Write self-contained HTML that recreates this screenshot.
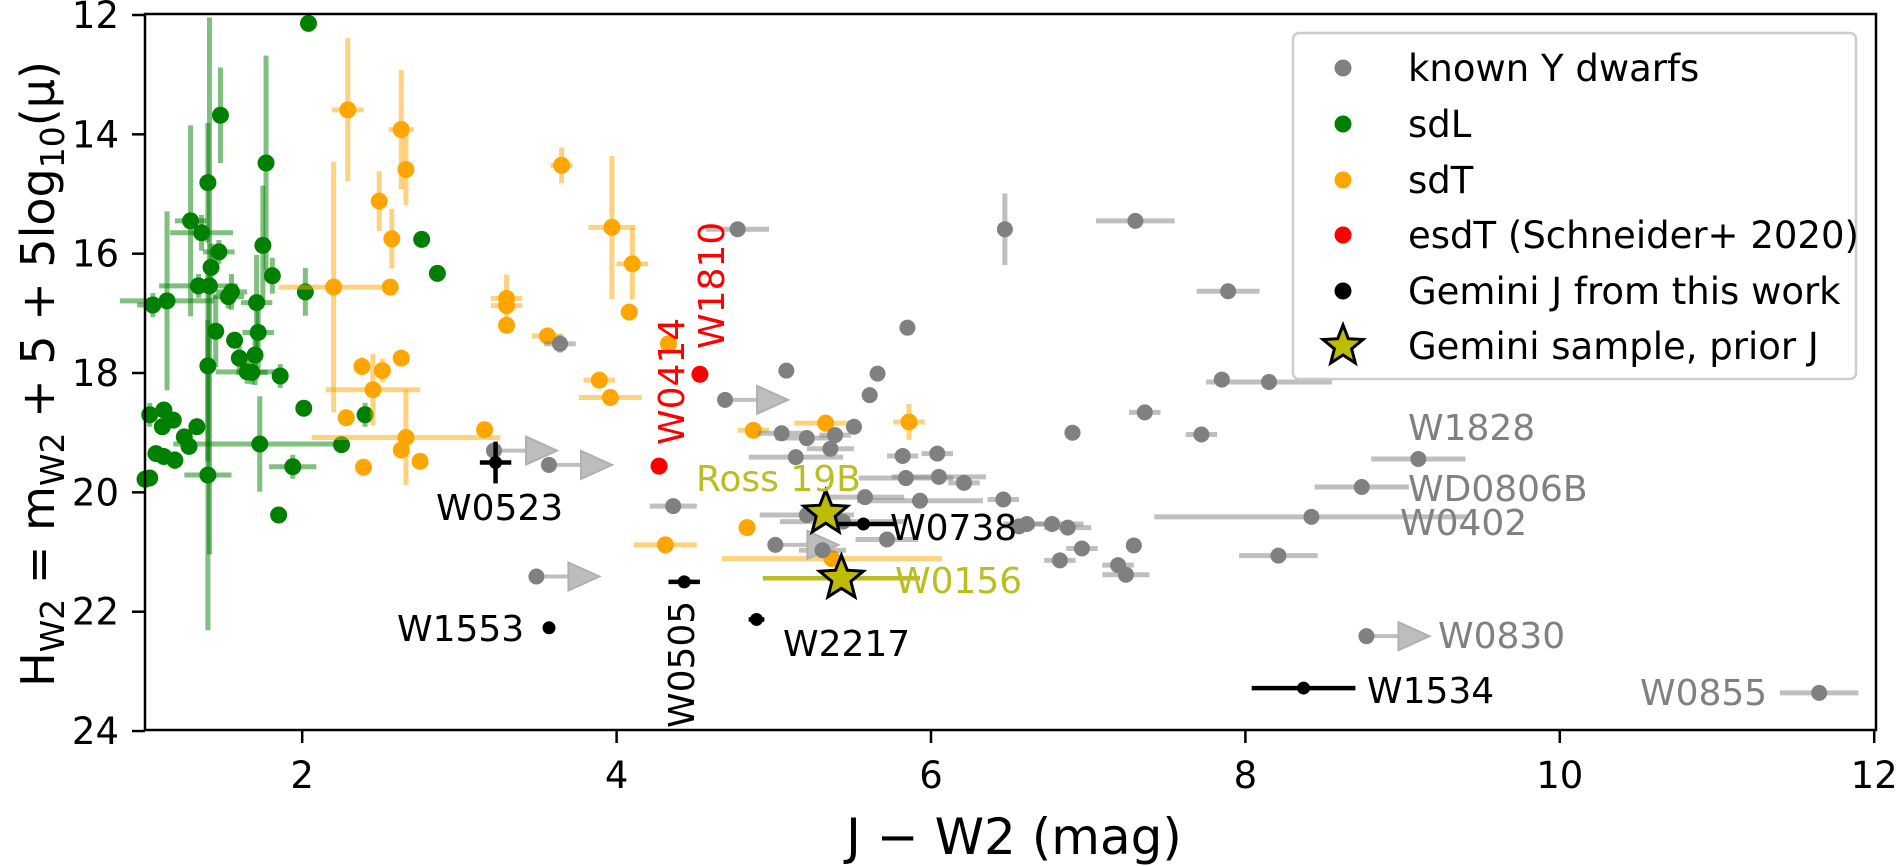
<!DOCTYPE html>
<html><head><meta charset="utf-8">
<style>
html,body{margin:0;padding:0;background:#fff;}
svg{display:block;font-family:"DejaVu Sans","Liberation Sans",sans-serif;}
</style></head>
<body>
<svg id="chart" width="1900" height="866" viewBox="0 0 1900 866" xmlns="http://www.w3.org/2000/svg">
<g id="plot"></g>
</svg>
<script>
// ---- data ----
const greyX  = [4.77,6.47,7.30,7.89,5.85,3.64,5.08,5.66,7.85,8.15,5.61,7.36,7.72,6.90,5.05,5.21,5.39,5.51,5.14,5.36,5.82,6.04,6.05,5.84,6.21,6.46,5.58,5.93,5.21,5.44,5.72,6.61,6.77,6.56,6.87,6.96,7.29,6.82,7.19,7.24,5.31,4.36,8.21,8.42,8.74,9.10,11.65];
const greyY  = [15.59,15.59,15.45,16.63,17.24,17.51,17.96,18.01,18.11,18.15,18.37,18.66,19.03,19.00,19.01,19.09,19.04,18.90,19.41,19.27,19.39,19.35,19.74,19.76,19.84,20.12,20.08,20.14,20.38,20.49,20.79,20.53,20.53,20.57,20.59,20.94,20.89,21.14,21.22,21.38,20.97,20.23,21.06,20.41,19.91,19.44,23.36];
const greyXe = [0.2,0,0.25,0.2,0.05,0.1,0,0,0.05,0.4,0.05,0.1,0.1,0.05,0.15,0.2,0.1,0,0.3,0.15,0.1,0.1,0.3,0.3,0.1,0.1,0.25,0.4,0.3,0.4,0.2,0.15,0.2,0.1,0.15,0.1,0.05,0.1,0.1,0.15,0.15,0.15,0.25,1.0,0.3,0.3,0.25];
const greyYe = [0,0.6,0,0,0,0.15,0,0,0,0,0,0,0,0,0,0,0.1,0,0,0,0,0.1,0,0,0,0,0,0,0,0,0,0,0,0,0,0,0,0,0,0,0,0,0,0,0,0,0];
const limX = [3.22,3.57,4.69,3.49,5.01,8.77];
const limY = [19.30,19.54,18.45,21.41,20.88,22.41];

const greenX  = [1.48,1.77,1.40,1.29,1.36,1.47,1.75,1.81,1.42,1.34,1.41,1.55,1.53,1.71,1.14,1.05,2.02,1.45,1.72,1.57,1.60,1.70,1.40,1.65,1.68,1.86,2.01,2.40,2.25,1.73,2.76,2.86,2.04,1.12,1.03,1.18,1.11,1.33,1.25,1.28,1.07,1.12,1.19,1.03,1.40,1.94,1.85,1.0];
const greenY  = [13.68,14.48,14.81,15.45,15.65,15.97,15.86,16.37,16.23,16.54,16.54,16.64,16.72,16.82,16.79,16.86,16.64,17.30,17.32,17.45,17.75,17.70,17.88,17.98,17.99,18.05,18.59,18.70,19.20,19.19,15.76,16.33,12.14,18.62,18.70,18.79,18.90,18.90,19.07,19.23,19.35,19.40,19.46,19.76,19.71,19.57,20.38,19.78];
const greenXe = [0.05,0.05,0.05,0.1,0.2,0.1,0.05,0.05,0.05,0.25,0.05,0.1,0.1,0.1,0.3,0.1,0,0.05,0.1,0,0,0.05,0.05,0.2,0.1,0,0,0,0,0.55,0,0,0,0.05,0,0,0.05,0,0,0,0,0,0,0,0.15,0.15,0,0];
const greenYe = [0.8,1.8,1.0,1.6,0.3,0.2,1.0,0.3,0.4,0.2,4.5,0.3,0.2,0.8,1.5,0.2,0.4,0.6,0.6,0,0.2,0.5,1.6,0.2,0.2,0.2,0,0.2,0,0.8,0,0,0,0,0.2,0,0,0.1,0,0,0,0,0.15,0,2.6,0.2,0,0];

const orangeX  = [2.29,2.63,2.66,3.65,2.49,2.57,2.20,2.56,3.30,3.30,3.30,3.56,2.63,2.38,2.51,2.45,2.28,3.16,2.66,2.63,2.75,2.39,3.97,4.10,4.08,4.33,3.89,3.96,4.87,5.33,5.86,4.83,4.31,5.37];
const orangeY  = [13.59,13.92,14.59,14.52,15.12,15.75,16.56,16.56,16.75,16.87,17.20,17.38,17.75,17.89,17.96,18.28,18.75,18.95,19.08,19.29,19.48,19.58,15.56,16.17,16.98,17.51,18.12,18.41,18.96,18.84,18.82,20.59,20.88,21.11];
const orangeXe = [0.1,0.08,0.05,0.07,0,0.05,0.35,0.05,0.1,0.1,0,0.1,0,0.05,0.05,0.3,0,0,0.6,0,0,0,0.15,0.1,0,0,0.1,0.2,0.1,0.2,0.1,0.05,0.2,0.7];
const orangeYe = [1.2,1.0,0.6,0.3,0.5,0.5,2.1,0.1,0.4,0.1,0.1,0.1,0,0.15,0.2,0.6,0,0,0.8,0,0,0,1.2,0.6,0,0,0,0.1,0,0,0.3,0,0,0];

const redX = [4.53,4.27];
const redY = [18.02,19.56];

const blackNames = ["W0523","W0738","W0505","W1553","W2217","W1534"];
const blackX  = [3.23,5.57,4.43,3.57,4.89,8.37];
const blackY  = [19.50,20.53,21.50,22.27,22.13,23.28];
const blackXe = [0.1,0.2,0.1,0,0.05,0.33];
const blackYe = [0.35,0,0,0,0,0];

const starNames = ["Ross 19B","W0156"];
const starX  = [5.33,5.43];
const starY  = [20.35,21.44];
const starXe = [0,0.5];

const xTicks = [2,4,6,8,10,12];
const yTicks = [12,14,16,18,20,22,24];

// ---- scales ----
const X = v => 145 + (v - 1) * 157.2;
const Y = v => 15 + (v - 12) * 59.67;
const NS = "http://www.w3.org/2000/svg";
const plot = document.getElementById('plot');
function mk(tag, attrs, parent) {
  const e = document.createElementNS(NS, tag);
  for (const k in attrs) e.setAttribute(k, attrs[k]);
  (parent || plot).appendChild(e);
  return e;
}
function errbars(xs, ys, xe, ye, color, alpha, w, g) {
  for (let i = 0; i < xs.length; i++) {
    if (xe[i] > 0) {
      const l = mk('line', {x1: X(xs[i]-xe[i]), x2: X(xs[i]+xe[i]), y1: Y(ys[i]), y2: Y(ys[i]), stroke: color, 'stroke-width': w, 'stroke-opacity': alpha}, g);
      
      
    }
    if (ye[i] > 0) {
      const l = mk('line', {x1: X(xs[i]), x2: X(xs[i]), y1: Y(ys[i]-ye[i]), y2: Y(ys[i]+ye[i]), stroke: color, 'stroke-width': w, 'stroke-opacity': alpha}, g);
      
      
    }
  }
}
function dots(xs, ys, color, r, g, name) {
  for (let i = 0; i < xs.length; i++) {
    const c = mk('circle', {cx: X(xs[i]), cy: Y(ys[i]), r: r, fill: color}, g);
    
    
  }
}
function starPath(cx, cy, R, r) {
  let d = '';
  for (let k = 0; k < 10; k++) {
    const rad = k % 2 ? r : R;
    const a = -Math.PI/2 + k * Math.PI/5;
    d += (k ? 'L' : 'M') + (cx + rad*Math.cos(a)).toFixed(1) + ',' + (cy + rad*Math.sin(a)).toFixed(1);
  }
  return d + 'Z';
}
function text(x, y, s, opts, g) {
  const t = mk('text', Object.assign({x: x, y: y, 'font-size': 36, fill: '#000'}, opts), g);
  t.textContent = s;
  return t;
}

const gGreen = mk('g', {});  
errbars(greenX, greenY, greenXe, greenYe, 'green', 0.5, 5, gGreen);
dots(greenX, greenY, 'green', 8.5, gGreen, 'sdl-point');

const gOrange = mk('g', {});  
errbars(orangeX, orangeY, orangeXe, orangeYe, 'orange', 0.5, 5, gOrange);
dots(orangeX, orangeY, 'orange', 8.5, gOrange, 'sdt-point');

const gGrey = mk('g', {});  
errbars(greyX, greyY, greyXe, greyYe, 'grey', 0.5, 5, gGrey);
for (let i = 0; i < limX.length; i++) {
  const x0 = X(limX[i]), y0 = Y(limY[i]);
  const l = mk('line', {x1: x0, x2: x0+34, y1: y0, y2: y0, stroke: 'grey', 'stroke-width': 4, 'stroke-opacity': 0.5}, gGrey);
  
  
  const p = mk('path', {d: `M${x0+32},${y0-14}L${x0+63},${y0}L${x0+32},${y0+14}Z`, fill: '#bdbdbd', stroke: '#b0b0b0', 'stroke-width': 2}, gGrey);
  
  
}
dots(greyX, greyY, 'grey', 8, gGrey, 'known-y-dwarf-point');
dots(limX, limY, 'grey', 8, gGrey, 'known-y-dwarf-limit-point');

const gRed = mk('g', {});  
dots(redX, redY, 'red', 8.5, gRed, 'esdt-point');

const gBlack = mk('g', {});  
errbars(blackX, blackY, blackXe, blackYe, 'black', 1, 4.5, gBlack);
dots(blackX, blackY, 'black', 6.5, gBlack, 'gemini-j-point');

const gStar = mk('g', {});  
errbars(starX, starY, starXe, [0,0], '#bcbd22', 1, 4.5, gStar);
for (let i = 0; i < starX.length; i++) {
  const s = mk('path', {d: starPath(X(starX[i]), Y(starY[i]), 23, 10), fill: '#bcbc00', stroke: '#000', 'stroke-width': 3}, gStar);
  
  
}

const gAnn = mk('g', {});  
const ann = [
  ['W0523', 436, 520, '#000'], ['W1553', 397, 641, '#000'], ['W2217', 783, 656, '#000'],
  ['W0738', 890, 540, '#000'], ['W1534', 1367, 703, '#000'],
  ['Ross 19B', 696, 491, '#bcbd22'], ['W0156', 895, 593, '#bcbd22'],
  ['W1828', 1408, 440, 'grey'], ['WD0806B', 1408, 501, 'grey'], ['W0402', 1400, 535, 'grey'],
  ['W0830', 1438, 648, 'grey'], ['W0855', 1640, 705, 'grey']
];
for (const a of ann) {
  const t = text(a[1], a[2], a[0], {fill: a[3]}, gAnn);
  
  
}
const rot = [['W0505', 694, 728, '#000'], ['W0414', 684, 445, 'red'], ['W1810', 724, 349, 'red']];
for (const a of rot) {
  const t = text(a[1], a[2], a[0], {fill: a[3], transform: `rotate(-90 ${a[1]} ${a[2]})`}, gAnn);
  
  
}

const gAx = mk('g', {});  
const frame = mk('rect', {x: 145, y: 14, width: 1731, height: 716, fill: 'none', stroke: '#000', 'stroke-width': 2.5}, gAx);


for (const v of xTicks) {
  const l = mk('line', {x1: X(v), x2: X(v), y1: 730, y2: 743, stroke: '#000', 'stroke-width': 2.5}, gAx);
  
  
  const t = text(X(v), 788, String(v), {'text-anchor': 'middle', 'font-size': 37}, gAx);
  
  
}
for (const v of yTicks) {
  const l = mk('line', {x1: 132, x2: 145, y1: Y(v), y2: Y(v), stroke: '#000', 'stroke-width': 2.5}, gAx);
  
  
  const t = text(119, Y(v) + 13, String(v), {'text-anchor': 'end', 'font-size': 37}, gAx);
  
  
}
const xl = text(1014, 854, 'J − W2 (mag)', {'text-anchor': 'middle', 'font-size': 50}, gAx);


const yl = mk('text', {x: 0, y: 0, 'font-size': 46, 'text-anchor': 'middle', transform: 'translate(54,374) rotate(-90)'}, gAx);


yl.innerHTML = 'H<tspan font-size="33" dy="10">W2</tspan><tspan dy="-10"> = m</tspan><tspan font-size="33" dy="10">W2</tspan><tspan dy="-10"> + 5 + 5log</tspan><tspan font-size="33" dy="10">10</tspan><tspan dy="-10">(μ)</tspan>';

const gLeg = mk('g', {});  
const lb = mk('rect', {x: 1293, y: 33, width: 563, height: 346, rx: 6, fill: '#fff', 'fill-opacity': 0.85, stroke: '#ccc', 'stroke-width': 2.5}, gLeg);


const legLabels = ['known Y dwarfs','sdL','sdT','esdT (Schneider+ 2020)','Gemini J from this work','Gemini sample, prior J'];
const legColors = ['grey','green','orange','red','black','star'];
const legYs = [68,124,180,235,291,346];
for (let i = 0; i < legLabels.length; i++) {
  let m;
  if (legColors[i] === 'star') m = mk('path', {d: starPath(1343, legYs[i], 21, 9), fill: '#bcbc00', stroke: '#000', 'stroke-width': 3}, gLeg);
  else m = mk('circle', {cx: 1343, cy: legYs[i], r: 8.5, fill: legColors[i]}, gLeg);
  
  
  const t = text(1408, legYs[i] + 13, legLabels[i], {'font-size': 37}, gLeg);
  
  
}
</script>
</body></html>
